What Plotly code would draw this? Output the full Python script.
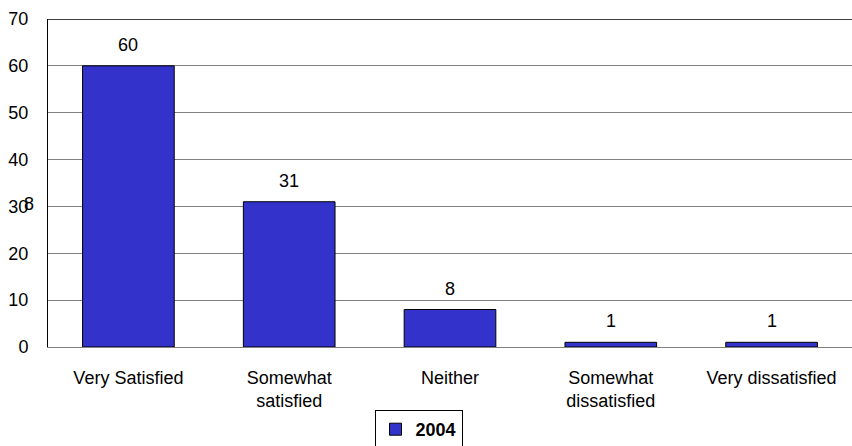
import plotly.graph_objects as go

categories = ["Very Satisfied", "Somewhat<br>satisfied", "Neither", "Somewhat<br>dissatisfied", "Very dissatisfied"]
values_2004 = [60, 31, 8, 1, 1]
series_name = "2004"
y_ticks = [0, 10, 20, 30, 40, 50, 60, 70]

FONT = "Liberation Sans, Arial"

fig = go.Figure()
fig.add_trace(go.Bar(
    x=categories, y=values_2004, name="<b>" + series_name + "</b>",
    marker=dict(color="#3333CC", line=dict(color="#000000", width=1)),
    cliponaxis=False, width=0.57,
))

# value labels above bars
for c, v in zip(categories, values_2004):
    fig.add_annotation(x=c, y=v, xref="x", yref="y", text=str(v), showarrow=False,
                       yanchor="bottom", yshift=9,
                       font=dict(family=FONT, size=18, color="#000000"))

# stray "8" overlapping the 30 tick label in the original
fig.add_annotation(x=-12 / 804, xref="paper", y=30.6, yref="y", text="8", showarrow=False,
                   xanchor="right", yanchor="middle",
                   font=dict(family=FONT, size=18, color="#000"))

fig.update_layout(
    width=852, height=446,
    margin=dict(l=48, r=0, t=19, b=99, autoexpand=False),
    paper_bgcolor="white", plot_bgcolor="white",
    font=dict(family=FONT, size=18, color="#000000"),
    showlegend=True,
    legend=dict(orientation="h", x=418.5 / 852, xref="container", xanchor="center",
                y=(446 - 410) / 446, yref="container", yanchor="top",
                bordercolor="#000000", borderwidth=1, font=dict(size=18, family=FONT),
                itemwidth=30, tracegroupgap=0),
    bargap=0.43,
)
fig.update_xaxes(showline=True, linecolor="#808080", linewidth=1, ticks="", ticklabelstandoff=14,
                 tickfont=dict(size=18), automargin=False)
fig.update_yaxes(range=[0, 70], tickvals=y_ticks, showgrid=True, gridcolor="#808080", gridwidth=1,
                 showline=True, linecolor="#000000", linewidth=1, ticks="", ticklabelstandoff=15,
                 tickfont=dict(size=18), zeroline=False, automargin=False)
fig.add_shape(type="line", xref="paper", yref="y", x0=0, x1=1, y0=70, y1=70,
              line=dict(color="#000000", width=1.5))

fig.write_html("out.html", config={"displayModeBar": False},
               post_script="document.body.style.margin='0';document.body.style.overflow='hidden';")
